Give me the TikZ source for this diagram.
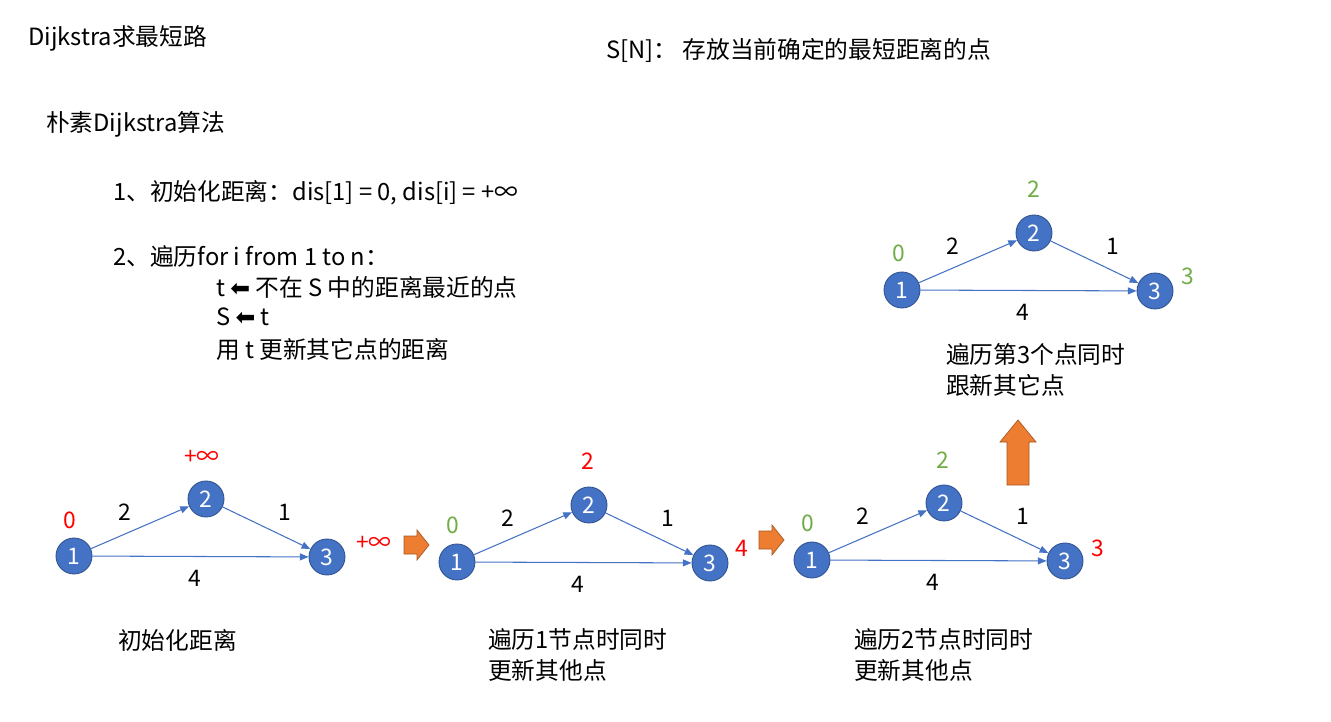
\documentclass[tikz,border=0pt]{standalone}
\usepackage{fontspec}
\setmainfont{Noto Sans CJK SC}
\newfontfamily\symfont{DejaVu Sans}
\usetikzlibrary{arrows.meta}
\definecolor{nodeblue}{HTML}{4472C4}
\definecolor{nodeline}{HTML}{2F528F}
\definecolor{distgreen}{HTML}{70AD47}
\definecolor{steporange}{HTML}{ED7D31}
\tikzset{
  vert/.style={circle, fill=nodeblue, draw=nodeline, line width=0.5pt, minimum size=0.72cm, inner sep=0pt, text=white, font=\fontsize{13}{13}\selectfont},
  wedge/.style={-{Triangle[length=5pt,width=4pt]}, nodeblue, line width=0.6pt},
  wlabel/.style={font=\fontsize{13}{13}\selectfont, text=black},
  dred/.style={text=red, font=\fontsize{13}{13}\selectfont},
  dgreen/.style={text=distgreen, font=\fontsize{13}{13}\selectfont},
  bigarrow/.style={fill=steporange, draw=steporange!70!black, line width=0.4pt},
  txt/.style={anchor=west, align=left, font=\fontsize{13.5}{18}\selectfont},
}
% one graph: name prefix, x, y of vertex 1
\newcommand{\dgraph}[3]{%
  \node[vert] (#1a) at (#2,#3) {1};
  \node[vert] (#1b) at (#2+132,#3-57) {2};
  \node[vert] (#1c) at (#2+253,#3+1) {3};
  \node[wlabel] (#1w) at (#2+51,#3-44) {2};
  \node[wlabel] (#1x) at (#2+211,#3-44) {1};
  \node[wlabel] (#1y) at (#2+121,#3+22) {4};
  \draw[wedge] (#1a) -- (#1b);
  \draw[wedge] (#1b) -- (#1c);
  \draw[wedge] (#1a) -- (#1c);
}
% right block arrow centred at x,y
\newcommand{\rightstep}[2]{%
  \draw[bigarrow] (#1-12,#2-9) -- (#1+1,#2-9) -- (#1+1,#2-15) -- (#1+13,#2) -- (#1+1,#2+15) -- (#1+1,#2+9) -- (#1-12,#2+9) -- cycle;
}
\begin{document}
\begin{tikzpicture}[x=0.02cm, y=-0.02cm]
  \useasboundingbox (0,0) rectangle (1331,722);
  \node[txt] (title) at (22,38) {Dijkstra求最短路};
  \node[txt] (snote) at (600,50) {S[N]：\ 存放当前确定的最短距离的点};
  \node[txt] (algo) at (40,124) {朴素Dijkstra算法};
  \node[txt] (stepone) at (107,193) {1、初始化距离：dis[1] = 0, dis[i] = +∞};
  \node[txt] (steptwo) at (107,256) {2、遍历for i from 1 to n：};
  \node[txt] (linea) at (210,287) {t {\symfont ⬅} 不在 S 中的距离最近的点};
  \node[txt] (lineb) at (210,317) {S {\symfont ⬅} t};
  \node[txt] (linec) at (210,349) {用 t 更新其它点的距离};
  % graphs
  \dgraph{g}{74}{556}
  \dgraph{h}{457}{562}
  \dgraph{k}{812}{560}
  \dgraph{m}{902}{290}
  % distances
  \node[dred] (gd1) at (70,520) {0};
  \node[dred] (gd2) at (202,457) {+∞};
  \node[dred] (gd3) at (374,543) {+∞};
  \node[dgreen] (hd1) at (453,525) {0};
  \node[dred] (hd2) at (588,461) {2};
  \node[dred] (hd3) at (742,548) {4};
  \node[dgreen] (kd1) at (808,523) {0};
  \node[dgreen] (kd2) at (943,460) {2};
  \node[dred] (kd3) at (1098,548) {3};
  \node[dgreen] (md1) at (899,253) {0};
  \node[dgreen] (md2) at (1034,189) {2};
  \node[dgreen] (md3) at (1188,276) {3};
  % step arrows
  \rightstep{416}{545}
  \rightstep{771}{540}
  \draw[bigarrow] (1007,485) -- (1007,442) -- (1000,442) -- (1018,420) -- (1036,442) -- (1029,442) -- (1029,485) -- cycle;
  % captions
  \node[txt] (capa) at (112,640) {初始化距离};
  \node[txt] (capb) at (482,655) {遍历1节点时同时\\更新其他点};
  \node[txt] (capc) at (848,655) {遍历2节点时同时\\更新其他点};
  \node[txt] (capd) at (940,370) {遍历第3个点同时\\跟新其它点};
\end{tikzpicture}
\end{document}
